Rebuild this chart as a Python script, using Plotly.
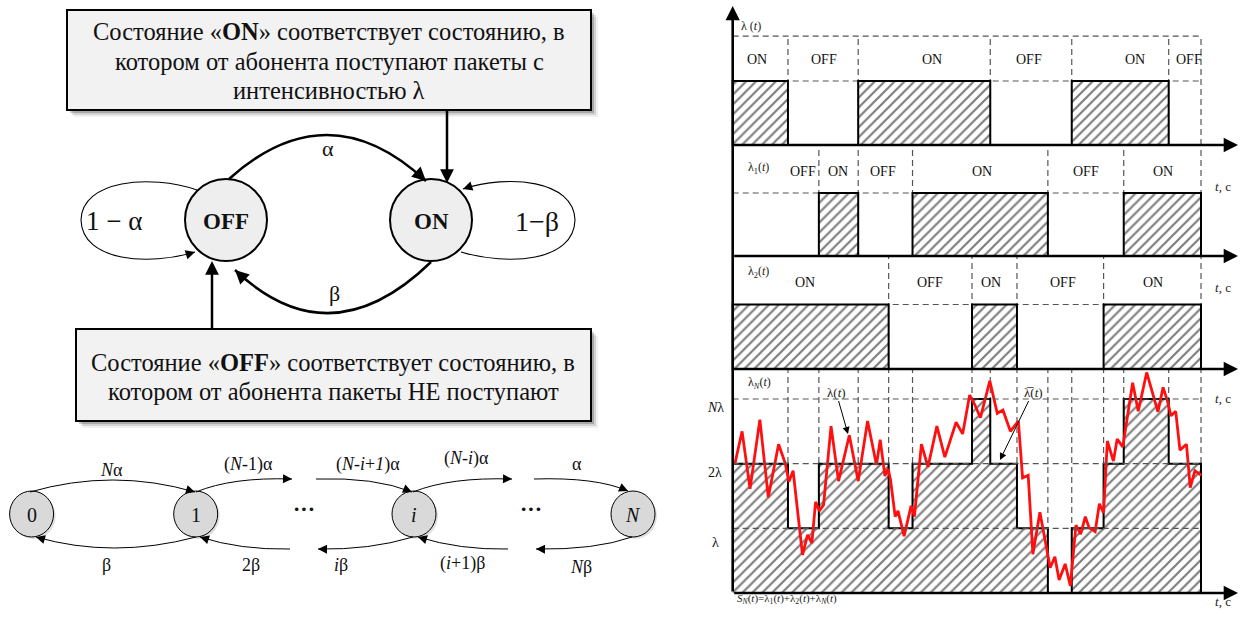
import plotly.graph_objects as go

W, H = 1240, 618
SERIF = "Liberation Serif"

# ---------------- right-hand chart data (time in arbitrary units 0..100) ----------------
T_END = 100.0
lam_on_start = [0.0, 26.8, 72.4]
lam_on_end = [11.8, 55.0, 93.1]
lam1_on_start = [18.4, 38.4, 83.5]
lam1_on_end = [26.8, 67.3, 100.0]
lam2_on_start = [0.0, 51.1, 79.2]
lam2_on_end = [33.3, 60.7, 100.0]

lam_states = ["ON", "OFF", "ON", "OFF", "ON", "OFF"]
lam_label_t = [5.1, 19.5, 42.6, 63.2, 86.0, 97.4]
lam1_states = ["OFF", "ON", "OFF", "ON", "OFF", "ON"]
lam1_label_t = [15.0, 22.4, 32.0, 53.2, 75.4, 91.9]
lam2_states = ["ON", "OFF", "ON", "OFF", "ON"]
lam2_label_t = [15.4, 42.1, 55.2, 70.5, 89.7]

# instantaneous aggregate intensity λ(t), in units of λ
red_t = [0.5, 2.0, 3.7, 5.8, 7.6, 9.8, 11.2, 12.0, 12.9, 14.9,
         16.0, 16.9, 17.7, 18.5, 19.4, 21.0, 22.6, 24.9, 26.8, 28.8,
         30.7, 31.5, 32.5, 33.2, 33.7, 34.7, 35.3, 36.6, 38.1, 38.8,
         40.3, 41.7, 43.6, 45.3, 47.7, 49.1, 50.6, 51.7, 52.9, 54.9,
         56.5, 57.7, 59.3, 61.0, 61.9, 63.1, 64.1, 65.6, 67.8, 68.8,
         69.7, 71.0, 72.1, 73.3, 74.3, 75.3, 76.1, 77.4, 78.3, 79.2,
         80.0, 81.3, 82.1, 83.3, 85.4, 86.6, 88.4, 89.7, 90.8, 91.9,
         92.8, 93.6, 94.6, 95.5, 96.9, 97.7, 98.7, 100.1]
red_v = [2.01, 2.50, 1.61, 2.68, 1.48, 2.30, 2.01, 1.72, 1.89, 0.59,
         0.90, 0.77, 1.41, 1.27, 1.36, 2.58, 1.73, 2.44, 1.73, 2.66,
         1.98, 2.37, 1.81, 1.92, 1.75, 1.18, 1.27, 0.88, 1.35, 1.18,
         2.30, 1.95, 2.58, 2.10, 2.64, 2.46, 3.06, 2.91, 2.71, 3.28,
         2.78, 2.83, 2.50, 2.66, 1.78, 1.82, 0.60, 1.25, 0.39, 0.56,
         0.20, 0.45, 0.11, 1.05, 0.91, 1.18, 1.01, 0.95, 1.38, 1.24,
         2.35, 2.04, 2.38, 2.26, 3.25, 2.81, 3.41, 3.09, 2.80, 3.18,
         2.98, 2.74, 2.81, 2.21, 2.30, 1.63, 1.89, 1.82]

level_vals = [1, 2, 3]
level_text = ["λ", "2λ", "<i>N</i>λ"]

# ---------------- layout geometry ----------------
X0 = 732.7      # pixel of t = 0
PXT = 4.683     # pixels per time unit
T_MIN = -3.0
T_MAX = (W - X0) / PXT
XDOM = [(X0 + T_MIN * PXT) / W, 1.0]
LEFT_W = 706.0

# baseline px, px per unit, top px, bottom px
PANELS = [(145, 64.0, 0, 148), (256, 63.0, 145, 259),
          (369, 64.5, 256, 372), (593, 64.67, 369, 618)]
YNAMES = ["y2", "y3", "y4", "y5"]

def ppx(px):
    return 1 - px / H

fig = go.Figure()
shapes, annos = [], []

hatch = dict(shape="/", size=7, solidity=0.32, fgcolor="black", bgcolor="white")

sources = [(lam_on_start, lam_on_end), (lam1_on_start, lam1_on_end), (lam2_on_start, lam2_on_end)]
state_sets = [(lam_states, lam_label_t), (lam1_states, lam1_label_t), (lam2_states, lam2_label_t)]

DASH = dict(color="#555555", width=1.2, dash="6px,4px")

for i, (st, en) in enumerate(sources):
    yn = YNAMES[i]
    b, u, T, B = PANELS[i]
    top_v = (b - T) / u if i > 0 else 1.70
    bounds = sorted(set([v for v in st + en if v > 0] + [T_END]))
    for tb in bounds:
        shapes.append(dict(type="line", xref="x2", yref=yn, x0=tb, x1=tb, y0=0, y1=top_v,
                           line=DASH, layer="below"))
    shapes.append(dict(type="line", xref="x2", yref=yn, x0=0, x1=T_END, y0=1, y1=1,
                       line=DASH, layer="below"))
    if i == 0:
        shapes.append(dict(type="line", xref="x2", yref=yn, x0=0, x1=T_END, y0=1.70, y1=1.70,
                           line=DASH, layer="below"))
    fig.add_trace(go.Bar(x=st, y=[1] * len(st), width=[e - s for s, e in zip(st, en)], offset=0,
                         base=0, xaxis="x2", yaxis=yn, showlegend=False, hoverinfo="skip",
                         marker=dict(color="white", line=dict(color="black", width=2), pattern=hatch)))
    names, lts = state_sets[i]
    for nm, lt in zip(names, lts):
        annos.append(dict(x=lt, y=1.34, xref="x2", yref=yn, text=nm, showarrow=False,
                          font=dict(family=SERIF, size=14, color="#111")))

# aggregate step function S_N(t)
all_b = sorted(set([0.0] + [v for st, en in sources for v in st + en if v < T_END]))
def n_on(t):
    return sum(1 for st, en in sources for s, e in zip(st, en) if s <= t < e)
step_x = all_b + [T_END]
step_y = [n_on(t + 1e-6) for t in all_b] + [0]

b4, u4, T4, B4 = PANELS[3]
for tb in sorted(set(all_b[1:] + [T_END])):
    shapes.append(dict(type="line", xref="x2", yref="y5", x0=tb, x1=tb, y0=0, y1=(b4 - T4) / u4,
                       line=DASH, layer="below"))
for lv in level_vals:
    shapes.append(dict(type="line", xref="x2", yref="y5", x0=0, x1=T_END, y0=lv, y1=lv,
                       line=DASH, layer="above"))

fig.add_trace(go.Scatter(x=step_x, y=step_y, mode="lines", line=dict(color="black", width=2, shape="hv"),
                         fill="tozeroy", fillcolor="white", fillpattern=hatch,
                         xaxis="x2", yaxis="y5", showlegend=False, hoverinfo="skip"))
fig.add_trace(go.Scatter(x=red_t, y=red_v, mode="lines", line=dict(color="#ff1010", width=2.8),
                         xaxis="x2", yaxis="y5", showlegend=False, hoverinfo="skip"))

# axes arrows
for i, yn in enumerate(YNAMES):
    annos.append(dict(x=107.9, y=0, ax=0, ay=0, xref="x2", yref=yn, axref="x2", ayref=yn, text="",
                      showarrow=True, arrowhead=2, arrowsize=1.1, arrowwidth=2.6, arrowcolor="black",
                      standoff=0, startstandoff=0))
annos.append(dict(x=0, y=(145 - 6) / 64.0, ax=0, ay=587, xref="x2", yref="y2", text="",
                  showarrow=True, arrowhead=2, arrowsize=1.1, arrowwidth=2.6, arrowcolor="black",
                  standoff=0, startstandoff=0))

# panel names
pan_names = ["λ (<i>t</i>)", "λ<sub>1</sub>(<i>t</i>)", "λ<sub>2</sub>(<i>t</i>)", "λ<sub><i>N</i></sub>(<i>t</i>)"]
pan_y = [17, 158, 272, 383]
for nm, py in zip(pan_names, pan_y):
    annos.append(dict(x=(746 - X0) / PXT if py > 20 else (739 - X0) / PXT, y=ppx(py), xref="x2", yref="paper",
                      xanchor="left", text=nm, showarrow=False,
                      font=dict(family=SERIF, size=12, color="#222")))
for py in [177, 287, 398, 611]:
    annos.append(dict(x=1213 / W, y=ppx(py), xref="paper", yref="paper", xanchor="left", text="<i>t</i>, с",
                      showarrow=False, font=dict(family=SERIF, size=13, color="#222")))
for lv, lt, dy in zip(level_vals, level_text, [14, 9, 9]):
    annos.append(dict(x=715 / W, y=lv, xref="paper", yref="y5", yshift=-dy, text=lt, showarrow=False,
                      font=dict(family=SERIF, size=14, color="#111")))
annos.append(dict(x=(735 - X0) / PXT, y=ppx(608), xref="x2", yref="paper", xanchor="left",
                  text="<i>S<sub>N</sub></i>(<i>t</i>)=λ<sub>1</sub>(<i>t</i>)+λ<sub>2</sub>(<i>t</i>)+λ<sub><i>N</i></sub>(<i>t</i>)",
                  showarrow=False, font=dict(family=SERIF, size=11, color="#222")))
annos.append(dict(x=(848 - X0) / PXT, y=(593 - 434) / u4, xref="x2", yref="y5", ax=-12, ay=-42,
                  text="λ(<i>t</i>)", showarrow=True, arrowhead=2, arrowsize=1.4, arrowwidth=1,
                  arrowcolor="black", font=dict(family=SERIF, size=13, color="#222")))
annos.append(dict(x=(1000 - X0) / PXT, y=(593 - 460) / u4, xref="x2", yref="y5", ax=33, ay=-68,
                  text="λ̅(<i>t</i>)", showarrow=True, arrowhead=2, arrowsize=1.4, arrowwidth=1,
                  arrowcolor="black", font=dict(family=SERIF, size=13, color="#222")))

# ---------------- left-hand diagrams (pixel coordinates on axis x/y) ----------------
def L(**kw):
    kw.setdefault("xref", "x")
    kw.setdefault("yref", "y")
    shapes.append(kw)

def head(tip, frm, width=1.0, size=1.7):
    dx, dy = tip[0] - frm[0], tip[1] - frm[1]
    n = (dx * dx + dy * dy) ** 0.5
    annos.append(dict(x=tip[0], y=tip[1], ax=tip[0] - dx / n * 6, ay=tip[1] - dy / n * 6,
                      xref="x", yref="y", axref="x", ayref="y", text="", showarrow=True,
                      arrowhead=2, arrowsize=size, arrowwidth=width, arrowcolor="black",
                      standoff=0, startstandoff=0))

def txt(x, y, s, size=16, **kw):
    annos.append(dict(x=x, y=y, xref="x", yref="y", text=s, showarrow=False,
                      font=dict(family=SERIF, size=size, color="#111"), **kw))

def box(x0, y0, x1, y1):
    for off, op in [(7, 0.06), (5, 0.12), (3, 0.2)]:
        L(type="rect", x0=x0 + off, y0=y0 + off, x1=x1 + off, y1=y1 + off,
          fillcolor=f"rgba(0,0,0,{op})", line=dict(width=0))
    L(type="rect", x0=x0, y0=y0, x1=x1, y1=y1, fillcolor="#f2f2f2", line=dict(color="black", width=2))

box(67, 10, 591, 110)
txt(329, 31, "Состояние «<b>ON</b>» соответствует состоянию, в", 24.5)
txt(329, 61, "котором от абонента поступают пакеты с", 24.5)
txt(329, 90, "интенсивностью λ", 24.5)

box(76, 329, 591, 421)
txt(333, 362, "Состояние «<b>OFF</b>» соответствует состоянию, в", 24.5)
txt(333, 391, "котором от абонента пакеты НЕ поступают", 24.5)

# two-state diagram
L(type="circle", x0=185, y0=179, x1=267, y1=261, fillcolor="#eeeeee", line=dict(color="black", width=2))
L(type="circle", x0=390, y0=179, x1=472, y1=261, fillcolor="#eeeeee", line=dict(color="black", width=2))
txt(226, 221, "<b>OFF</b>", 23)
txt(431, 221, "<b>ON</b>", 23)

L(type="path", path="M 229,179 Q 328,90 426,181", line=dict(color="black", width=2.5))
head((426, 181), (328, 90), width=2.3, size=1.2)
txt(328, 148, "α", 22)
L(type="path", path="M 431,262 Q 330,360 235,270", line=dict(color="black", width=2.5))
head((235, 270), (330, 360), width=2.3, size=1.2)
txt(334, 293, "β", 22)

L(type="path", path="M 197,190 C 150,174 82,180 81,220 C 82,262 150,266 195,252",
  line=dict(color="black", width=1.1))
head((195, 252), (150, 266), width=1.1, size=1.7)
L(type="path", path="M 461,252 C 508,266 574,262 575,220 C 574,180 508,174 463,189",
  line=dict(color="black", width=1.1))
head((463, 189), (508, 174), width=1.1, size=1.7)
txt(114, 221, "1 − α", 27)
txt(537, 221, "1−β", 28)

L(type="line", x0=447, y0=110, x1=447, y1=172, line=dict(color="black", width=2.5))
head((447, 183), (447, 110), width=2.3, size=1.2)
L(type="line", x0=212, y0=329, x1=212, y1=272, line=dict(color="black", width=2.5))
head((212, 261), (212, 329), width=2.3, size=1.2)

# birth-death chain
chain_x = [31.6, 195.7, 414.0, 633.0]
chain_lbl = ["0", "1", "<i>i</i>", "<i>N</i>"]
for cx, cl in zip(chain_x, chain_lbl):
    L(type="circle", x0=cx - 22 + 2, y0=514 - 23 + 2, x1=cx + 22 + 2, y1=514 + 23 + 2,
      fillcolor="rgba(0,0,0,0.12)", line=dict(width=0))
    L(type="circle", x0=cx - 22, y0=514 - 23, x1=cx + 22, y1=514 + 23, fillcolor="#d9d9d9",
      line=dict(color="black", width=1))
    txt(cx, 515, cl, 20)
txt(304, 508, "<b>···</b>", 22)
txt(531, 508, "<b>···</b>", 22)

up_arcs = [((30, 492), (113, 468), (195, 492)), ((196, 492), (232, 477), (292, 479)),
           ((316, 479), (375, 477), (412, 492)), ((413, 492), (450, 477), (512, 479)),
           ((534, 479), (596, 477), (628, 491))]
dn_arcs = [((196, 537), (113, 559), (36, 537)), ((290, 549), (240, 550), (200, 537)),
           ((413, 537), (370, 550), (318, 549)), ((508, 549), (460, 550), (418, 537)),
           ((632, 537), (595, 550), (536, 549))]
for p0, c, p1 in up_arcs + dn_arcs:
    L(type="path", path=f"M {p0[0]},{p0[1]} Q {c[0]},{c[1]} {p1[0]},{p1[1]}", line=dict(color="black", width=1))
    head(p1, c, width=1, size=1.8)

up_lbl = ["<i>N</i>α", "(<i>N</i>-1)α", "(<i>N</i>-<i>i</i>+<i>1</i>)α", "(<i>N</i>-<i>i</i>)α", "α"]
up_pos = [(111, 470), (248, 464), (368, 464), (466, 458), (577, 464)]
dn_lbl = ["β", "2β", "<i>i</i>β", "(<i>i</i>+1)β", "<i>N</i>β"]
dn_pos = [(106, 565), (251, 565), (341, 565), (462, 563), (581, 567)]
for s, (x, y) in zip(up_lbl + dn_lbl, up_pos + dn_pos):
    txt(x, y, s, 18)

ax_off = dict(visible=False, showgrid=False, zeroline=False, fixedrange=True)
layout = dict(
    width=W, height=H, margin=dict(l=0, r=0, t=0, b=0),
    paper_bgcolor="white", plot_bgcolor="rgba(0,0,0,0)", showlegend=False, barmode="overlay",
    xaxis=dict(domain=[0, LEFT_W / W], range=[0, LEFT_W], anchor="y", **ax_off),
    yaxis=dict(domain=[0, 1], range=[618, 0], anchor="x", **ax_off),
    xaxis2=dict(domain=XDOM, range=[T_MIN, T_MAX], anchor="y5", **ax_off),
    shapes=shapes, annotations=annos,
)
for i, (b, u, T, B) in enumerate(PANELS):
    layout[f"yaxis{i + 2}"] = dict(domain=[1 - B / H, 1 - T / H], range=[(b - B) / u, (b - T) / u],
                                   anchor="x2", **ax_off)
fig.update_layout(**layout)
fig.write_html("out.html", config={"displayModeBar": False},
               post_script="document.body.style.margin='0';document.body.style.overflow='hidden';")
